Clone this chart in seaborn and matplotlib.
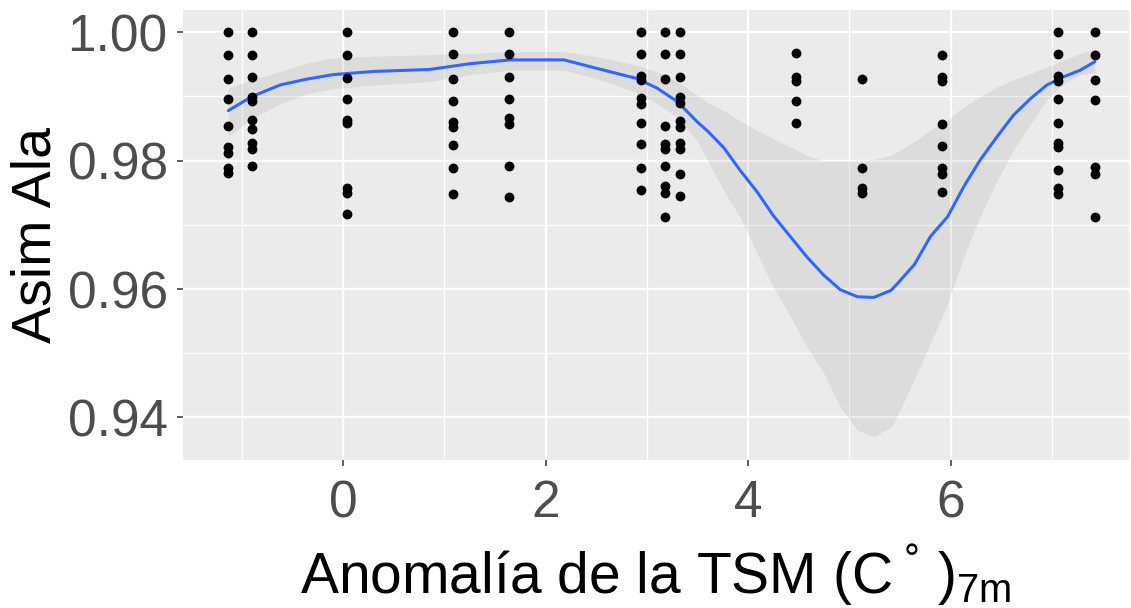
import numpy as np
import pandas as pd
import seaborn as sns
import matplotlib.pyplot as plt
from matplotlib.ticker import MultipleLocator, FormatStrFormatter

# observed points: one list of Asim Ala values per TSM anomaly column
tsm_cols = [-1.133, -0.896, 0.037, 1.084, 1.637, 2.945, 3.175, 3.323,
            4.469, 5.122, 5.916, 7.062, 7.421]
asim_cols = [
    [1.000, 0.9965, 0.9927, 0.9896, 0.9854, 0.9822, 0.9812, 0.9789, 0.9781],
    [1.000, 0.9965, 0.9931, 0.9899, 0.9893, 0.9864, 0.9850, 0.9828, 0.9818, 0.9792],
    [1.000, 0.9965, 0.9929, 0.9896, 0.9863, 0.9858, 0.9757, 0.9750, 0.9717],
    [1.000, 0.9966, 0.9927, 0.9893, 0.9860, 0.9853, 0.9824, 0.9788, 0.9748],
    [1.000, 0.9966, 0.9931, 0.9896, 0.9866, 0.9857, 0.9791, 0.9744],
    [1.000, 0.9966, 0.9932, 0.9926, 0.9897, 0.9889, 0.9858, 0.9826, 0.9788, 0.9754],
    [1.000, 0.9966, 0.9927, 0.9854, 0.9826, 0.9818, 0.9792, 0.9761, 0.9750, 0.9713],
    [1.000, 0.9966, 0.9931, 0.9899, 0.9890, 0.9862, 0.9852, 0.9828, 0.9818, 0.9779, 0.9745],
    [0.9967, 0.9931, 0.9924, 0.9893, 0.9858],
    [0.9928, 0.9788, 0.9757, 0.9749],
    [0.9964, 0.9930, 0.9924, 0.9857, 0.9823, 0.9789, 0.9780, 0.9751],
    [1.000, 0.9966, 0.9932, 0.9924, 0.9896, 0.9858, 0.9828, 0.9821, 0.9785, 0.9757, 0.9748],
    [1.000, 0.9964, 0.9926, 0.9895, 0.9790, 0.9780, 0.9713],
]

# loess smooth and its confidence band
smooth_x = [-1.133, -0.9, -0.62, -0.36, -0.1, 0.3, 0.85, 1.25, 1.65, 2.18, 2.5,
            2.9, 3.1, 3.3, 3.5, 3.6, 3.76, 3.92, 4.09, 4.25, 4.42, 4.58, 4.75,
            4.91, 5.08, 5.24, 5.41, 5.47, 5.64, 5.80, 5.97, 6.13, 6.29, 6.46,
            6.62, 6.79, 6.95, 7.12, 7.28, 7.421]
smooth_y = [0.9878, 0.9900, 0.9918, 0.9927, 0.9934, 0.9939, 0.9942, 0.9951,
            0.9957, 0.9957, 0.9944, 0.9928, 0.9913, 0.9892, 0.9860, 0.9846,
            0.9820, 0.9785, 0.9751, 0.9714, 0.9681, 0.9650, 0.9621, 0.9599,
            0.9588, 0.9587, 0.9598, 0.9608, 0.9638, 0.9682, 0.9713, 0.9760,
            0.9801, 0.9838, 0.9871, 0.9897, 0.9918, 0.9931, 0.9941, 0.9954]
band_hi = [0.9913, 0.9926, 0.9939, 0.9952, 0.9960, 0.9963, 0.9965, 0.9967,
           0.9970, 0.9970, 0.9962, 0.9949, 0.9938, 0.9923, 0.9902, 0.9890,
           0.9878, 0.9862, 0.9847, 0.9834, 0.9821, 0.9808, 0.9800, 0.9800,
           0.9800, 0.9802, 0.9808, 0.9814, 0.9830, 0.9848, 0.9864, 0.9884,
           0.9900, 0.9915, 0.9926, 0.9936, 0.9946, 0.9957, 0.9967, 0.9974]
band_lo = [0.9838, 0.9866, 0.9889, 0.9904, 0.9912, 0.9918, 0.9923, 0.9934,
           0.9941, 0.9941, 0.9928, 0.9906, 0.9889, 0.9868, 0.9830, 0.9800,
           0.9753, 0.9712, 0.9655, 0.9603, 0.9556, 0.9510, 0.9468, 0.9416,
           0.9380, 0.9370, 0.9385, 0.9402, 0.9459, 0.9516, 0.9578, 0.9651,
           0.9713, 0.9770, 0.9817, 0.9858, 0.9895, 0.9921, 0.9934, 0.9937]

df = pd.DataFrame({
    "tsm": [x for x, col in zip(tsm_cols, asim_cols) for _ in col],
    "asim": [v for col in asim_cols for v in col],
})

sns.set_style("darkgrid", {"axes.facecolor": "#EBEBEB", "grid.color": "white"})
plt.rcParams["font.family"] = ["Liberation Sans", "DejaVu Sans"]
plt.rcParams["mathtext.fontset"] = "custom"
plt.rcParams["mathtext.rm"] = "Liberation Sans"
plt.rcParams["mathtext.it"] = "Liberation Sans:italic"

fig, ax = plt.subplots(figsize=(11.31, 6.08), dpi=100)
fig.subplots_adjust(left=183 / 1131, right=1129 / 1131,
                    top=1 - 10 / 608, bottom=1 - 460 / 608)

ax.fill_between(smooth_x, band_lo, band_hi, color="#999999", alpha=0.18,
                linewidth=0, zorder=1)
sns.lineplot(x=smooth_x, y=smooth_y, color="#3366FF", linewidth=2.2, ax=ax, zorder=2)
sns.scatterplot(data=df, x="tsm", y="asim", color="black", s=50, linewidth=0,
                ax=ax, zorder=3)

ax.set_xlim(-1.581, 7.76)
ax.set_ylim(0.93338, 1.00347)
ax.xaxis.set_major_locator(MultipleLocator(2))
ax.xaxis.set_minor_locator(MultipleLocator(1))
ax.yaxis.set_major_locator(MultipleLocator(0.02))
ax.yaxis.set_minor_locator(MultipleLocator(0.01))
ax.yaxis.set_major_formatter(FormatStrFormatter("%.2f"))
ax.grid(which="major", color="white", linewidth=1.6)
ax.grid(which="minor", color="white", linewidth=0.9)
ax.set_axisbelow(True)
ax.tick_params(which="major", length=4, width=1.1, color="#333333",
               labelsize=37, labelcolor="#4D4D4D", bottom=True, left=True)
ax.tick_params(axis="x", which="major", pad=10)
ax.tick_params(axis="y", which="major", pad=7)
ax.tick_params(which="minor", length=0)
for s in ax.spines.values():
    s.set_visible(False)

ax.set_xlabel(r"Anomalía de la TSM (C$^{\ °}$ )$_{\mathrm{7m}}$", fontsize=41,
              color="black", labelpad=10)
ax.set_ylabel("Asim Ala", fontsize=40, color="black", labelpad=4)

fig.savefig("out.png", dpi=100)
